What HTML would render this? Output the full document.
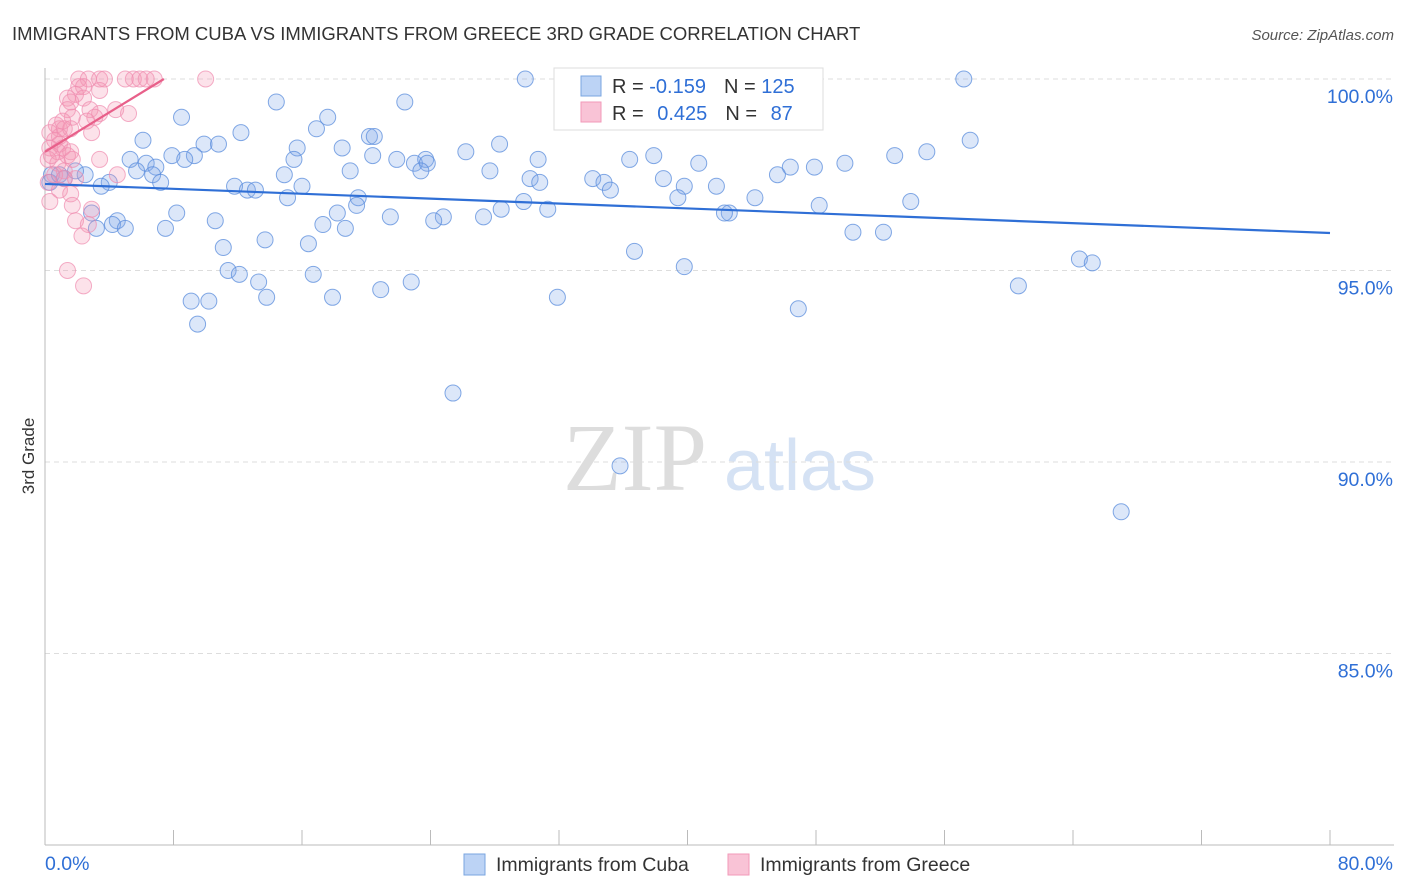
<!DOCTYPE html>
<html><head><meta charset="utf-8">
<style>
body{margin:0;background:#fff;font-family:"Liberation Sans",sans-serif;}
#wrap{position:relative;width:1406px;height:892px;overflow:hidden;}
</style></head>
<body>
<div id="wrap">
<svg id="svg" width="1406" height="892" xmlns="http://www.w3.org/2000/svg">
<text x="12" y="40" font-size="18.5" fill="#333">IMMIGRANTS FROM CUBA VS IMMIGRANTS FROM GREECE 3RD GRADE CORRELATION CHART</text>
<text x="1394" y="40" font-size="15" fill="#555" text-anchor="end" font-style="italic">Source: ZipAtlas.com</text>
<text x="34" y="456" font-size="17" fill="#333" text-anchor="middle" transform="rotate(-90 34 456)">3rd Grade</text>
<g>
<text x="635" y="490" font-size="96" fill="#ddd" text-anchor="middle" font-family="Liberation Serif,serif">ZIP</text>
<text x="800" y="490" font-size="72" fill="#d5e2f4" text-anchor="middle">atlas</text>
</g>
<g id="grid"></g>
<g id="axes"></g>
<g id="pts"></g>
<g id="lines"></g>
<g>
<rect x="554" y="68" width="269" height="62" fill="#fff" stroke="#ddd"/>
<rect x="581" y="76" width="20" height="20" fill="#bcd3f5" stroke="#7aa6e0"/>
<rect x="581" y="102" width="20" height="20" fill="#f9c3d6" stroke="#f29ab8"/>
<text x="612" y="93" font-size="20" fill="#333">R = <tspan fill="#2f6fd6">-0.159</tspan><tspan dx="18">N = </tspan><tspan fill="#2f6fd6">125</tspan></text>
<text x="612" y="120" font-size="20" fill="#333">R = <tspan fill="#2f6fd6" dx="8">0.425</tspan><tspan dx="18">N = </tspan><tspan fill="#2f6fd6" dx="8">87</tspan></text>
</g>
<g>
<rect x="464" y="854" width="21" height="21" fill="#bcd3f5" stroke="#7aa6e0"/>
<text x="496" y="871" font-size="19.5" fill="#333">Immigrants from Cuba</text>
<rect x="728" y="854" width="21" height="21" fill="#f9c3d6" stroke="#f29ab8"/>
<text x="760" y="871" font-size="19.5" fill="#333">Immigrants from Greece</text>
</g>
</svg>
</div>
<script>
const yTicks=[100,95,90,85];
const xTickLabels=["0.0%","80.0%"];
const cubaX=[29.9,57.2,14.4,22.4,8.5,17.6,16.9,12.2,6.1,20.2,20.5,57.6,28.3,9.9,10.8,15.7,18.5,26.2,54.9,7.9,9.3,8.7,20.4,52.9,15.5,30.7,36.4,37.9,5.3,21.9,23.0,23.7,23.8,40.7,49.8,46.4,47.9,6.3,6.9,5.7,23.4,19.0,27.7,45.6,14.9,34.1,38.5,34.8,30.2,30.8,6.7,7.2,4.0,3.5,11.8,12.6,13.1,16.0,35.2,39.8,41.8,19.5,44.2,53.9,15.1,29.8,39.4,19.4,31.3,48.2,8.2,2.9,18.2,42.6,42.3,28.4,27.3,21.5,24.8,24.2,10.6,4.5,4.2,5.0,3.2,7.5,17.3,18.7,50.3,52.2,13.7,16.4,11.1,36.7,64.4,65.2,11.4,12.1,39.8,16.7,13.3,22.8,20.9,60.6,17.9,13.8,10.2,9.1,31.9,46.9,9.5,25.4,35.8,67.0,33.4,0.4,0.3,0.9,1.2,2.5,1.9];
const cubaY=[100,100,99.4,99.4,99.0,99.0,98.7,98.6,98.4,98.5,98.5,98.4,98.3,98.3,98.3,98.2,98.2,98.1,98.1,98.0,98.0,97.9,98.0,98.0,97.9,97.9,97.9,98.0,97.9,97.9,97.8,97.9,97.8,97.8,97.8,97.7,97.7,97.8,97.7,97.6,97.6,97.6,97.6,97.5,97.5,97.4,97.4,97.3,97.4,97.3,97.5,97.3,97.3,97.2,97.2,97.1,97.1,97.2,97.1,97.2,97.2,96.9,96.9,96.8,96.9,96.8,96.9,96.7,96.6,96.7,96.5,96.5,96.5,96.5,96.5,96.6,96.4,96.4,96.4,96.3,96.3,96.3,96.2,96.1,96.1,96.1,96.2,96.1,96.0,96.0,95.8,95.7,95.6,95.5,95.3,95.2,95.0,94.9,95.1,94.9,94.7,94.7,94.5,94.6,94.3,94.3,94.2,94.2,94.3,94.0,93.6,91.8,89.9,88.7,98.9,97.5,97.3,97.5,97.4,97.5,97.6];
const greeceX=[2.1,2.7,3.4,3.7,5.0,5.5,5.9,6.3,6.8,10.0,2.1,2.4,1.9,1.4,2.4,1.6,1.4,2.8,3.4,4.4,5.2,1.7,3.1,2.6,0.7,0.9,1.2,0.3,0.9,1.6,2.9,0.6,0.9,1.1,0.3,0.8,1.6,0.2,1.4,1.7,3.4,0.8,1.2,0.6,1.2,1.9,4.5,0.2,0.9,1.6,0.3,2.9,1.7,1.9,2.7,2.3,1.4,2.4,0.4,1.1,3.4];
const greeceY=[100,100,100,100,100,100,100,100,100,100,99.8,99.8,99.6,99.5,99.5,99.4,99.2,99.2,99.1,99.2,99.1,99.0,99.0,98.9,98.8,98.7,98.7,98.6,98.5,98.7,98.6,98.4,98.3,98.2,98.2,98.1,98.1,97.9,98.0,97.9,97.9,97.8,97.6,97.5,97.4,97.4,97.5,97.3,97.1,97.0,96.8,96.6,96.7,96.3,96.2,95.9,95.0,94.6,98.0,98.9,99.7];
const cubaTrend=[[0,97.26],[80,95.98]];
const greeceTrend=[[0,98.1],[7.4,100]];
const NS="http://www.w3.org/2000/svg";
const X0=45,X1=1330,Y100=79,PXPER=38.3;
const sx=v=>X0+(v/80)*(X1-X0);
const sy=v=>Y100+(100-v)*PXPER;
function mk(tag,attrs,parent){const e=document.createElementNS(NS,tag);for(const k in attrs)e.setAttribute(k,attrs[k]);parent.appendChild(e);return e;}
const grid=document.getElementById('grid'),axes=document.getElementById('axes'),pts=document.getElementById('pts'),lines=document.getElementById('lines');
yTicks.forEach(t=>{
  const l=mk('line',{x1:X0,x2:1394,y1:sy(t),y2:sy(t),stroke:'#ddd','stroke-dasharray':'5,4'},grid);
  
  
  const tx=mk('text',{x:1393,y:sy(t)+24,'font-size':19.5,fill:'#2f6fd6','text-anchor':'end'},axes);
  tx.textContent=t.toFixed(1)+'%';
  
  
});
const ya=mk('line',{x1:X0,x2:X0,y1:68,y2:845,stroke:'#bbb'},axes);


const xa=mk('line',{x1:X0,x2:1394,y1:845,y2:845,stroke:'#bbb'},axes);


for(let i=0;i<=10;i++){
  const tk=mk('line',{x1:sx(i*8),x2:sx(i*8),y1:830,y2:845,stroke:'#bbb'},axes);
  
  
}
const xl0=mk('text',{x:45,y:870,'font-size':19.5,fill:'#2f6fd6'},axes);xl0.textContent=xTickLabels[0];


const xl1=mk('text',{x:1393,y:870,'font-size':19.5,fill:'#2f6fd6','text-anchor':'end'},axes);xl1.textContent=xTickLabels[1];


cubaX.forEach((v,i)=>{
  const c=mk('circle',{cx:sx(v),cy:sy(cubaY[i]),r:8,fill:'rgba(130,170,235,0.28)',stroke:'rgba(90,140,220,0.75)','stroke-width':1},pts);
  
  
});
greeceX.forEach((v,i)=>{
  const c=mk('circle',{cx:sx(v),cy:sy(greeceY[i]),r:8,fill:'rgba(245,150,180,0.28)',stroke:'rgba(240,140,175,0.7)','stroke-width':1},pts);
  
  
});
const l1=mk('line',{x1:sx(cubaTrend[0][0]),y1:sy(cubaTrend[0][1]),x2:sx(cubaTrend[1][0]),y2:sy(cubaTrend[1][1]),stroke:'#2f6fd6','stroke-width':2.2},lines);


const l2=mk('line',{x1:sx(greeceTrend[0][0]),y1:sy(greeceTrend[0][1]),x2:sx(greeceTrend[1][0]),y2:sy(greeceTrend[1][1]),stroke:'#e8608a','stroke-width':2.2},lines);


</script>
</body></html>
